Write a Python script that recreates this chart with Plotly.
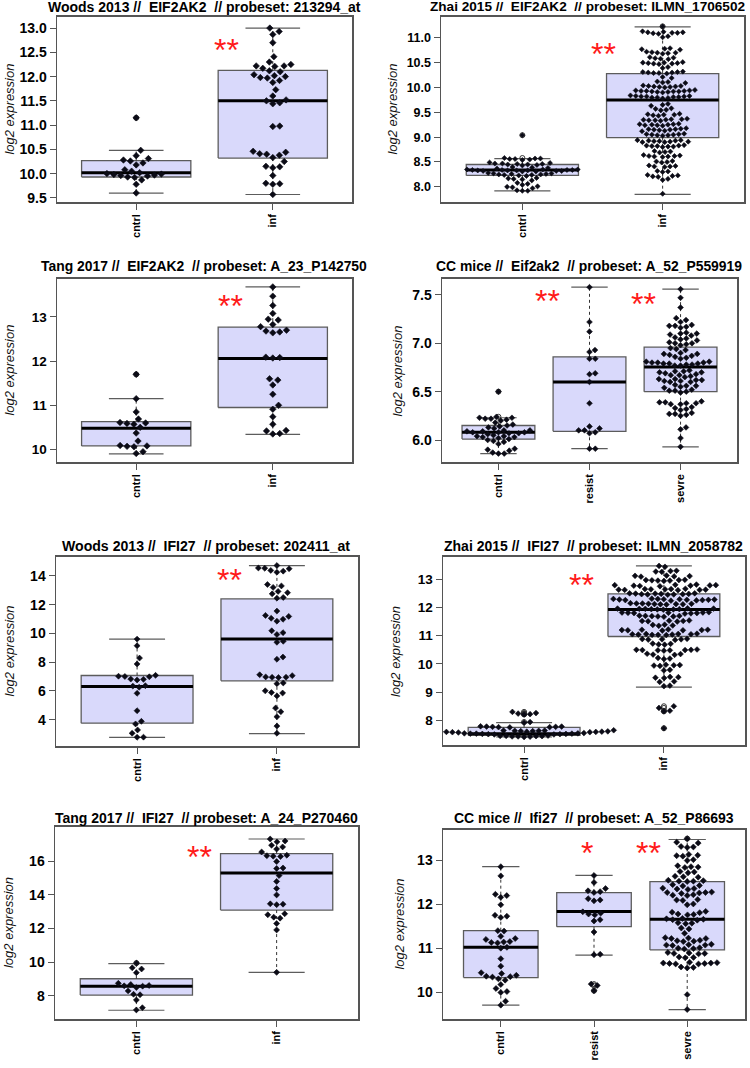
import math
import plotly.graph_objects as go

# ---------------------------------------------------------------- data
# Panel 1: Woods 2013 // EIF2AK2
woods_eif_groups = ["cntrl", "inf"]
woods_eif_cntrl = [11.15, 10.48, 10.37, 10.31, 10.28, 10.26, 10.22, 10.18, 10.08, 10.05, 10.02,
                   10.00, 9.99, 9.98, 9.97, 9.96, 9.95, 9.93, 9.92, 9.87, 9.78, 9.60]
woods_eif_inf = [13.00, 12.93, 12.87, 12.70, 12.41, 12.30, 12.25, 12.22, 12.22, 12.21, 12.17, 12.12,
                 12.10, 12.04, 12.02, 12.00, 11.98, 11.97, 11.92, 11.88, 11.73, 11.60, 11.52, 11.50,
                 11.46, 11.44, 10.98, 10.97, 10.46, 10.44, 10.41, 10.40, 10.38, 10.33, 10.25, 10.15,
                 10.14, 10.12, 9.96, 9.80, 9.79, 9.78, 9.57]
woods_eif_q1 = [9.93, 10.32]
woods_eif_med = [10.02, 11.50]
woods_eif_q3 = [10.27, 12.13]
woods_eif_lo = [9.60, 9.57]
woods_eif_hi = [10.48, 13.00]
woods_eif_ticks = [9.5, 10.0, 10.5, 11.0, 11.5, 12.0, 12.5, 13.0]
woods_eif_ticklabels = ["9.5", "10.0", "10.5", "11.0", "11.5", "12.0", "12.5", "13.0"]

# Panel 2: Zhai 2015 // EIF2AK2
zhai_eif_groups = ["cntrl", "inf"]
zhai_eif_cntrl = [9.04,
                  8.58, 8.57, 8.57, 8.56, 8.56, 8.55, 8.54,
                  8.49, 8.48, 8.47, 8.47, 8.46, 8.46, 8.45, 8.45, 8.44, 8.43,
                  8.40, 8.39, 8.38, 8.37,
                  8.35, 8.35, 8.35, 8.34, 8.34, 8.34, 8.34, 8.33, 8.33, 8.33, 8.33, 8.32, 8.32, 8.32,
                  8.31, 8.31,
                  8.28, 8.27, 8.27, 8.26, 8.26, 8.25, 8.25, 8.24, 8.24, 8.23, 8.22,
                  8.18, 8.17, 8.16, 8.15, 8.13,
                  8.08, 8.06, 8.04,
                  8.01, 8.00, 7.99, 7.97,
                  7.93, 7.92, 7.92]
zhai_eif_inf = [11.23,
                11.13, 11.12, 11.11, 11.11, 11.10, 11.10, 11.09, 11.08,
                11.03, 11.01,
                10.79, 10.78, 10.77, 10.76,
                10.72, 10.71, 10.70, 10.70, 10.69, 10.68,
                10.61, 10.60, 10.59, 10.58, 10.57,
                10.51, 10.50, 10.50, 10.49, 10.49, 10.48, 10.48, 10.47,
                10.41, 10.39,
                10.32, 10.31, 10.31, 10.30, 10.30, 10.29, 10.29, 10.28,
                10.21, 10.19,
                10.12, 10.11, 10.10, 10.09,
                10.04, 10.03, 10.03, 10.02, 10.02, 10.01, 10.01, 10.00,
                9.95, 9.94, 9.94, 9.93, 9.93, 9.93, 9.92, 9.92, 9.92, 9.91, 9.91, 9.90,
                9.84, 9.83, 9.83, 9.82, 9.82, 9.82, 9.81, 9.81, 9.80, 9.80, 9.79, 9.78,
                9.67, 9.65, 9.63,
                9.58, 9.57, 9.55, 9.54,
                9.47, 9.46, 9.45, 9.45, 9.44, 9.43,
                9.37, 9.36, 9.36, 9.35, 9.35, 9.34, 9.34, 9.33,
                9.27, 9.26, 9.26, 9.25, 9.25, 9.24, 9.24, 9.23,
                9.18, 9.17, 9.16, 9.16, 9.15, 9.15, 9.14, 9.13, 9.12,
                9.07, 9.06, 9.06, 9.05, 9.05, 9.04, 9.04, 9.03,
                8.94, 8.94, 8.93, 8.93, 8.92, 8.92, 8.91, 8.91, 8.90, 8.90,
                8.84, 8.83, 8.83, 8.82, 8.82, 8.81, 8.81, 8.80,
                8.72, 8.71, 8.70, 8.69,
                8.64, 8.63, 8.62, 8.62, 8.61, 8.61, 8.60,
                8.52, 8.51, 8.50, 8.49,
                8.43, 8.42, 8.41, 8.41, 8.40,
                8.32, 8.31, 8.30,
                8.24, 8.23, 8.22, 8.21, 8.20,
                8.16, 8.14,
                7.86]
zhai_eif_q1 = [8.23, 8.99]
zhai_eif_med = [8.34, 9.75]
zhai_eif_q3 = [8.45, 10.28]
zhai_eif_lo = [7.92, 7.85]
zhai_eif_hi = [8.57, 11.22]
zhai_eif_ticks = [8.0, 8.5, 9.0, 9.5, 10.0, 10.5, 11.0]
zhai_eif_ticklabels = ["8.0", "8.5", "9.0", "9.5", "10.0", "10.5", "11.0"]

# Panel 3: Tang 2017 // EIF2AK2
tang_eif_groups = ["cntrl", "inf"]
tang_eif_cntrl = [11.70, 11.15, 10.85, 10.69, 10.61, 10.60, 10.59, 10.57, 10.50, 10.37, 10.19,
                  10.09, 10.08, 10.07, 10.06, 9.95, 9.91]
tang_eif_inf = [13.68, 13.47, 13.26, 13.08, 12.95, 12.93, 12.83, 12.78, 12.70, 12.68, 12.66, 12.64,
                12.09, 12.08, 12.07, 11.60, 11.57, 11.46, 11.25, 11.00, 10.91, 10.74, 10.57, 10.43,
                10.42, 10.36, 10.35]
tang_eif_q1 = [10.08, 10.95]
tang_eif_med = [10.48, 12.06]
tang_eif_q3 = [10.63, 12.77]
tang_eif_lo = [9.90, 10.34]
tang_eif_hi = [11.15, 13.68]
tang_eif_ticks = [10, 11, 12, 13]
tang_eif_ticklabels = ["10", "11", "12", "13"]

# Panel 4: CC mice // Eif2ak2
cc_eif_groups = ["cntrl", "resist", "sevre"]
cc_eif_cntrl = [6.50, 6.24, 6.23, 6.23, 6.22, 6.22, 6.21, 6.20, 6.18, 6.16, 6.15, 6.14, 6.13, 6.12,
                6.10, 6.10, 6.09, 6.09, 6.08, 6.08, 6.08, 6.07, 6.07, 6.06, 6.05, 6.04, 6.04, 6.03,
                6.03, 6.02, 6.01, 6.00, 5.99, 5.98, 5.96, 5.91, 5.90, 5.89, 5.87, 5.86, 5.86]
cc_eif_resist = [7.58, 7.22, 7.12, 6.93, 6.91, 6.84, 6.84, 6.69, 6.68, 6.60, 6.38, 6.14, 6.12,
                 6.10, 6.10, 6.08, 6.07, 5.91, 5.91]
cc_eif_sevre = [7.56, 7.47, 7.37,
                7.26, 7.24, 7.22,
                7.19, 7.18, 7.18, 7.17, 7.16,
                7.11, 7.10, 7.10, 7.09, 7.08,
                7.06, 7.05, 7.04, 7.03,
                7.01, 7.00, 7.00, 6.99, 6.98,
                6.95, 6.94, 6.93,
                6.90, 6.89, 6.89, 6.88, 6.87,
                6.86, 6.85, 6.84,
                6.81, 6.81, 6.80, 6.80, 6.80, 6.79, 6.79, 6.79, 6.78, 6.78, 6.77, 6.77,
                6.72, 6.71, 6.71, 6.70, 6.70, 6.69,
                6.68, 6.67, 6.67, 6.66, 6.65,
                6.63, 6.63, 6.62, 6.62, 6.61, 6.61, 6.60, 6.60,
                6.57, 6.56, 6.56, 6.55, 6.54,
                6.52, 6.51, 6.51, 6.50, 6.49,
                6.40, 6.39, 6.39, 6.38, 6.38, 6.37, 6.37,
                6.34, 6.33, 6.32, 6.31,
                6.28, 6.27, 6.27, 6.26, 6.25,
                6.13, 6.11,
                6.02, 5.93]
cc_eif_q1 = [6.01, 6.09, 6.50]
cc_eif_med = [6.08, 6.60, 6.755]
cc_eif_q3 = [6.15, 6.86, 6.96]
cc_eif_lo = [5.86, 5.91, 5.93]
cc_eif_hi = [6.23, 7.58, 7.56]
cc_eif_ticks = [6.0, 6.5, 7.0, 7.5]
cc_eif_ticklabels = ["6.0", "6.5", "7.0", "7.5"]

# Panel 5: Woods 2013 // IFI27
woods_ifi_groups = ["cntrl", "inf"]
woods_ifi_cntrl = [9.60, 9.14, 8.28, 7.87, 7.08, 7.02, 7.00, 6.98, 6.82, 6.80, 6.76, 6.36, 6.33,
                   6.25, 5.83, 4.62, 3.88, 3.70, 3.28, 3.05, 2.78, 2.77]
woods_ifi_inf = [14.72, 14.55, 14.53, 14.50, 14.38, 14.33, 14.25, 13.40, 13.30, 13.20, 12.92, 12.83,
                 12.75, 12.50, 12.45, 11.55, 11.25, 11.18, 11.05, 10.98, 10.85, 10.18, 10.05, 9.92,
                 9.45, 9.38, 8.35, 8.20, 7.12, 7.06, 6.97, 6.95, 6.94, 6.93, 6.55, 6.50, 6.00, 5.88,
                 5.85, 5.65, 4.80, 4.55, 4.20, 3.55, 3.05]
woods_ifi_q1 = [3.75, 6.70]
woods_ifi_med = [6.30, 9.60]
woods_ifi_q3 = [7.07, 12.40]
woods_ifi_lo = [2.77, 3.03]
woods_ifi_hi = [9.60, 14.72]
woods_ifi_ticks = [4, 6, 8, 10, 12, 14]
woods_ifi_ticklabels = ["4", "6", "8", "10", "12", "14"]

# Panel 6: Zhai 2015 // IFI27
zhai_ifi_groups = ["cntrl", "inf"]
zhai_ifi_cntrl = [8.30, 8.26, 8.24, 8.22, 8.21,
                  7.94, 7.92,
                  7.79, 7.78, 7.78, 7.77, 7.77, 7.76, 7.76, 7.75,
                  7.66, 7.65, 7.65, 7.64, 7.64, 7.63, 7.63, 7.62, 7.62, 7.61, 7.61, 7.60, 7.60,
                  7.59, 7.59, 7.58, 7.58, 7.57,
                  7.55, 7.54, 7.54, 7.53, 7.53, 7.53, 7.52, 7.52, 7.51, 7.51, 7.50, 7.50,
                  7.46, 7.45, 7.45, 7.44, 7.44, 7.43, 7.43, 7.42, 7.41]
zhai_ifi_inf = [13.47, 13.44,
                13.30, 13.29, 13.27, 13.26,
                13.13, 13.12, 13.11, 13.10, 13.09,
                12.98, 12.97, 12.97, 12.96, 12.95, 12.95, 12.94,
                12.81, 12.80, 12.79, 12.79, 12.78, 12.77, 12.77, 12.76, 12.75,
                12.66, 12.65, 12.65, 12.64, 12.64, 12.63, 12.63, 12.62, 12.62, 12.61,
                12.50, 12.50, 12.49, 12.49, 12.48, 12.48, 12.47, 12.47, 12.46, 12.46, 12.45,
                12.31, 12.30, 12.30, 12.29, 12.29, 12.28, 12.28, 12.27, 12.27, 12.26, 12.26,
                12.25, 12.24,
                12.15, 12.14, 12.14, 12.13, 12.13, 12.12, 12.12, 12.11, 12.11, 12.10,
                11.97, 11.96, 11.96, 11.95, 11.95, 11.94, 11.94, 11.93, 11.93, 11.92,
                11.83, 11.82, 11.82, 11.81, 11.81, 11.80, 11.80, 11.79, 11.78,
                11.71, 11.70, 11.70, 11.69, 11.68, 11.68, 11.67,
                11.54, 11.53, 11.52, 11.52, 11.51, 11.50,
                11.39, 11.38, 11.36, 11.35,
                11.22, 11.21, 11.21, 11.20, 11.20, 11.19, 11.19, 11.18,
                11.07, 11.06, 11.06, 11.05, 11.05, 11.04, 11.04, 11.03, 11.03, 11.02,
                10.89, 10.88, 10.87, 10.87, 10.86, 10.85,
                10.72, 10.71, 10.69, 10.68,
                10.51, 10.50, 10.50, 10.49, 10.49, 10.48, 10.48, 10.47,
                10.36, 10.35, 10.33, 10.32,
                10.21, 10.19, 10.17,
                9.97, 9.96, 9.95, 9.94, 9.93,
                9.79, 9.77,
                9.54, 9.53, 9.51, 9.50,
                9.38, 9.36,
                9.23, 9.21,
                8.50, 8.44,
                8.34, 8.32,
                7.72]
zhai_ifi_q1 = [7.47, 10.97]
zhai_ifi_med = [7.53, 11.93]
zhai_ifi_q3 = [7.75, 12.48]
zhai_ifi_lo = [7.41, 9.18]
zhai_ifi_hi = [7.92, 13.47]
zhai_ifi_ticks = [8, 9, 10, 11, 12, 13]
zhai_ifi_ticklabels = ["8", "9", "10", "11", "12", "13"]

# Panel 7: Tang 2017 // IFI27
tang_ifi_groups = ["cntrl", "inf"]
tang_ifi_cntrl = [9.95, 9.67, 9.60, 9.38, 8.75, 8.68, 8.62, 8.60, 8.58, 8.50, 8.30, 8.10, 8.07,
                  7.76, 7.30, 7.17]
tang_ifi_inf = [17.32, 17.20, 17.15, 16.95, 16.85, 16.72, 16.55, 16.36, 16.33, 16.30, 16.28, 15.98,
                15.60, 15.57, 15.15, 14.80, 14.38, 14.00, 13.47, 13.45, 13.42, 12.88, 12.82, 12.68,
                12.62, 12.30, 11.92, 9.40]
tang_ifi_q1 = [8.05, 13.10]
tang_ifi_med = [8.58, 15.30]
tang_ifi_q3 = [9.02, 16.45]
tang_ifi_lo = [7.15, 9.40]
tang_ifi_hi = [9.92, 17.32]
tang_ifi_ticks = [8, 10, 12, 14, 16]
tang_ifi_ticklabels = ["8", "10", "12", "14", "16"]

# Panel 8: CC mice // Ifi27
cc_ifi_groups = ["cntrl", "resist", "sevre"]
cc_ifi_cntrl = [12.86, 12.65, 12.23, 12.20, 12.16, 11.99, 11.75, 11.73, 11.70, 11.40, 11.39, 11.27,
                11.22, 11.20, 11.15, 11.14, 11.13, 11.12, 11.02, 11.00, 10.76, 10.59, 10.44, 10.42,
                10.38, 10.36, 10.35, 10.34, 10.30, 10.27, 10.17, 10.08, 10.01, 9.99, 9.79, 9.70]
cc_ifi_resist = [12.66, 12.50, 12.36, 12.31, 12.29, 12.27, 12.13, 12.10, 12.08, 11.83, 11.80, 11.78,
                 11.76, 11.65, 11.62, 11.37, 10.86, 10.85, 10.18, 10.15, 10.03]
cc_ifi_sevre = [13.50, 13.42, 13.40, 13.32, 13.31, 13.30,
                13.14, 13.12, 13.11, 13.10,
                13.02, 13.00,
                12.88, 12.86, 12.85, 12.84,
                12.75, 12.74, 12.72,
                12.64, 12.63, 12.62,
                12.55, 12.54, 12.53, 12.53, 12.52,
                12.45, 12.43, 12.42,
                12.37, 12.36, 12.35, 12.34,
                12.28, 12.27, 12.27, 12.26, 12.25,
                12.22, 12.21, 12.20,
                12.11, 12.10, 12.09,
                12.01, 11.99,
                11.84, 11.82, 11.81,
                11.78, 11.77, 11.76,
                11.68, 11.67, 11.66, 11.65, 11.64,
                11.58, 11.57, 11.56,
                11.46, 11.44,
                11.34,
                11.24, 11.23, 11.22, 11.22,
                11.18, 11.17, 11.16, 11.15,
                11.09, 11.08, 11.07, 11.07, 11.06,
                11.01, 11.00, 10.99, 10.98,
                10.90, 10.89, 10.88, 10.88, 10.87,
                10.80, 10.79, 10.78,
                10.68, 10.67, 10.66, 10.66, 10.65, 10.65, 10.64, 10.64,
                10.57, 10.56, 10.55,
                9.94, 9.60]
cc_ifi_q1 = [10.33, 11.49, 10.96]
cc_ifi_med = [11.02, 11.84, 11.66]
cc_ifi_q3 = [11.40, 12.27, 12.52]
cc_ifi_lo = [9.70, 10.84, 9.60]
cc_ifi_hi = [12.86, 12.66, 13.48]
cc_ifi_ticks = [10, 11, 12, 13]
cc_ifi_ticklabels = ["10", "11", "12", "13"]

# ---------------------------------------------------------------- panel setup
W, H = 750, 1068
FONT = "Liberation Sans, Arial, sans-serif"
BOX_FILL = "#d9d9fb"
BOX_LINE = "#5c5c5c"
FRAME = "#555555"

# title_pos: (centre x px, centre y px, font size)
panels = [
    dict(title="Woods 2013 //\u00a0 EIF2AK2\u00a0 // probeset: 213294_at",
         groups=woods_eif_groups, values=[woods_eif_cntrl, woods_eif_inf],
         q1=woods_eif_q1, med=woods_eif_med, q3=woods_eif_q3, lo=woods_eif_lo, hi=woods_eif_hi,
         ticks=woods_eif_ticks, ticklabels=woods_eif_ticklabels,
         px=(57, 352, 17, 203), yr=(9.41, 13.23), title_pos=(204, 7, 14),
         ytick_size=14, ytitle_x=10, msize=5.0, d=7.0, stars=[("**", 1.66, 12.61)]),
    dict(title="Zhai 2015 //\u00a0 EIF2AK2\u00a0 // probeset: ILMN_1706502",
         groups=zhai_eif_groups, values=[zhai_eif_cntrl, zhai_eif_inf],
         q1=zhai_eif_q1, med=zhai_eif_med, q3=zhai_eif_q3, lo=zhai_eif_lo, hi=zhai_eif_hi,
         ticks=zhai_eif_ticks, ticklabels=zhai_eif_ticklabels,
         px=(441, 744, 17, 203), yr=(7.69, 11.42), title_pos=(587, 7, 13.6),
         ytick_size=12.5, ytitle_x=393, msize=3.9, d=5.4, stars=[("**", 1.58, 10.74)]),
    dict(title="Tang 2017 //\u00a0 EIF2AK2\u00a0 // probeset: A_23_P142750",
         groups=tang_eif_groups, values=[tang_eif_cntrl, tang_eif_inf],
         q1=tang_eif_q1, med=tang_eif_med, q3=tang_eif_q3, lo=tang_eif_lo, hi=tang_eif_hi,
         ticks=tang_eif_ticks, ticklabels=tang_eif_ticklabels,
         px=(57, 352, 280, 464), yr=(9.71, 13.86), title_pos=(203.5, 267, 13.9),
         ytick_size=13.5, ytitle_x=10, msize=5.0, d=7.0, stars=[("**", 1.69, 13.32)]),
    dict(title="CC mice //\u00a0 Eif2ak2\u00a0 // probeset: A_52_P559919",
         groups=cc_eif_groups, values=[cc_eif_cntrl, cc_eif_resist, cc_eif_sevre],
         q1=cc_eif_q1, med=cc_eif_med, q3=cc_eif_q3, lo=cc_eif_lo, hi=cc_eif_hi,
         ticks=cc_eif_ticks, ticklabels=cc_eif_ticklabels,
         px=(442, 737, 280, 464), yr=(5.77, 7.665), title_pos=(588.5, 267, 13.9),
         ytick_size=14, ytitle_x=398, msize=4.4, d=5.8,
         stars=[("**", 1.54, 7.47), ("**", 2.59, 7.44)]),
    dict(title="Woods 2013 //\u00a0 IFI27\u00a0 // probeset: 202411_at",
         groups=woods_ifi_groups, values=[woods_ifi_cntrl, woods_ifi_inf],
         q1=woods_ifi_q1, med=woods_ifi_med, q3=woods_ifi_q3, lo=woods_ifi_lo, hi=woods_ifi_hi,
         ticks=woods_ifi_ticks, ticklabels=woods_ifi_ticklabels,
         px=(56, 358, 559, 749), yr=(2.15, 15.32), title_pos=(206, 548, 14.1),
         ytick_size=14, ytitle_x=10, msize=4.6, d=6.4, stars=[("**", 1.66, 13.93)]),
    dict(title="Zhai 2015 //\u00a0 IFI27\u00a0 // probeset: ILMN_2058782",
         groups=zhai_ifi_groups, values=[zhai_ifi_cntrl, zhai_ifi_inf],
         q1=zhai_ifi_q1, med=zhai_ifi_med, q3=zhai_ifi_q3, lo=zhai_ifi_lo, hi=zhai_ifi_hi,
         ticks=zhai_ifi_ticks, ticklabels=zhai_ifi_ticklabels,
         px=(443, 745, 559, 748), yr=(7.12, 13.79), title_pos=(593.5, 548, 14),
         ytick_size=13.5, ytitle_x=395, msize=4.4, d=6.0, stars=[("**", 1.41, 12.90)]),
    dict(title="Tang 2017 //\u00a0 IFI27\u00a0 // probeset: A_24_P270460",
         groups=tang_ifi_groups, values=[tang_ifi_cntrl, tang_ifi_inf],
         q1=tang_ifi_q1, med=tang_ifi_med, q3=tang_ifi_q3, lo=tang_ifi_lo, hi=tang_ifi_hi,
         ticks=tang_ifi_ticks, ticklabels=tang_ifi_ticklabels,
         px=(55, 358, 830, 1023), yr=(6.62, 18.04), title_pos=(206.5, 821, 14),
         ytick_size=14, ytitle_x=8, msize=4.6, d=6.4, stars=[("**", 1.45, 16.43)]),
    dict(title="CC mice //\u00a0 Ifi27\u00a0 // probeset: A_52_P86693",
         groups=cc_ifi_groups, values=[cc_ifi_cntrl, cc_ifi_resist, cc_ifi_sevre],
         q1=cc_ifi_q1, med=cc_ifi_med, q3=cc_ifi_q3, lo=cc_ifi_lo, hi=cc_ifi_hi,
         ticks=cc_ifi_ticks, ticklabels=cc_ifi_ticklabels,
         px=(443, 745, 833, 1023), yr=(9.38, 13.70), title_pos=(593.5, 821, 14),
         ytick_size=14, ytitle_x=400, msize=4.6, d=6.2,
         stars=[("*", 1.92, 13.24), ("**", 2.58, 13.24)]),
]


def swarm(vals, ppx, ppy, d):
    """Beeswarm offsets (data units) for values, computed in pixel space."""
    order = sorted(range(len(vals)), key=lambda k: vals[k])
    placed = []
    out = [0.0] * len(vals)
    for k in order:
        y = vals[k] * ppy
        near = [(px, py) for (px, py) in placed if abs(py - y) < d]
        cands = [0.0]
        for px, py in near:
            dx = math.sqrt(max(d * d - (py - y) ** 2, 0.0))
            cands += [px + dx, px - dx]
        best = 0.0
        for c in sorted(cands, key=lambda c: (round(abs(c), 6), -c)):
            if all((c - px) ** 2 + (y - py) ** 2 >= d * d - 1e-6 for px, py in near):
                best = c
                break
        placed.append((best, y))
        out[k] = best / ppx
    return out


fig = go.Figure()
annotations = []
layout_axes = {}

for i, p in enumerate(panels, start=1):
    xa = "x" if i == 1 else f"x{i}"
    ya = "y" if i == 1 else f"y{i}"
    n = len(p["groups"])
    xr = (0.5 - 0.04 * n, n + 0.5 + 0.04 * n)
    x0, x1, y0, y1 = p["px"]
    ppx = (x1 - x0) / (xr[1] - xr[0])
    ppy = (y1 - y0) / (p["yr"][1] - p["yr"][0])

    for g in range(n):
        c = g + 1
        q1, md, q3, lo, hi = p["q1"][g], p["med"][g], p["q3"][g], p["lo"][g], p["hi"][g]
        fig.add_trace(go.Scatter(x=[c - 0.4, c + 0.4, c + 0.4, c - 0.4, c - 0.4],
                                 y=[q1, q1, q3, q3, q1], mode="lines", fill="toself",
                                 fillcolor=BOX_FILL, line=dict(color=BOX_LINE, width=1.3),
                                 xaxis=xa, yaxis=ya, showlegend=False, hoverinfo="skip"))
        for a, b in [(q3, hi), (q1, lo)]:
            fig.add_trace(go.Scatter(x=[c, c], y=[a, b], mode="lines",
                                     line=dict(color="#333333", width=1, dash="3px,3px"),
                                     xaxis=xa, yaxis=ya, showlegend=False, hoverinfo="skip"))
            fig.add_trace(go.Scatter(x=[c - 0.2, c + 0.2], y=[b, b], mode="lines",
                                     line=dict(color=BOX_LINE, width=1.2),
                                     xaxis=xa, yaxis=ya, showlegend=False, hoverinfo="skip"))
        fig.add_trace(go.Scatter(x=[c - 0.4, c + 0.4], y=[md, md], mode="lines",
                                 line=dict(color="black", width=3),
                                 xaxis=xa, yaxis=ya, showlegend=False, hoverinfo="skip"))
        outl = [v for v in p["values"][g] if v > hi + 1e-9 or v < lo - 1e-9]
        if outl:
            fig.add_trace(go.Scatter(x=[c] * len(outl), y=outl, mode="markers",
                                     marker=dict(symbol="circle-open", size=5,
                                                 color="#333333", line=dict(width=1)),
                                     xaxis=xa, yaxis=ya, showlegend=False, hoverinfo="skip"))

    for g in range(n):
        c = g + 1
        vals = p["values"][g]
        offs = swarm(vals, ppx, ppy, p["d"])
        fig.add_trace(go.Scatter(x=[c + o for o in offs], y=vals, mode="markers",
                                 marker=dict(symbol="diamond", size=p["msize"], color="#0b0b16",
                                             line=dict(width=0.6, color="#0b0b16")),
                                 xaxis=xa, yaxis=ya, showlegend=False,
                                 hovertemplate="%{y:.2f}<extra></extra>"))

    key_x = "xaxis" if i == 1 else f"xaxis{i}"
    key_y = "yaxis" if i == 1 else f"yaxis{i}"
    layout_axes[key_x] = dict(domain=[x0 / W, x1 / W], range=list(xr), anchor=ya,
                              tickvals=list(range(1, n + 1)), ticktext=p["groups"],
                              tickangle=-90, ticks="outside", ticklen=6, tickcolor=FRAME,
                              showline=True, mirror=True, linecolor=FRAME, linewidth=1.5,
                              showgrid=False, zeroline=False, fixedrange=True,
                              tickfont=dict(family=FONT, size=11, color="black", weight="bold"))
    layout_axes[key_y] = dict(domain=[1 - y1 / H, 1 - y0 / H], range=list(p["yr"]), anchor=xa,
                              tickvals=p["ticks"], ticktext=p["ticklabels"],
                              ticks="outside", ticklen=6, tickcolor=FRAME,
                              showline=True, mirror=True, linecolor=FRAME, linewidth=1.5,
                              showgrid=False, zeroline=False, fixedrange=True,
                              tickfont=dict(family=FONT, size=p["ytick_size"], color="black",
                                            weight="bold"))

    tx, ty, tsize = p["title_pos"]
    annotations.append(dict(text=p["title"], x=tx / W, y=1 - ty / H,
                            xref="paper", yref="paper", showarrow=False,
                            xanchor="center", yanchor="middle",
                            font=dict(family=FONT, size=tsize, color="black", weight="bold")))
    annotations.append(dict(text="log2 expression", x=p["ytitle_x"] / W,
                            y=1 - (y0 + y1) / 2 / H, xref="paper", yref="paper",
                            showarrow=False, textangle=-90, xanchor="center", yanchor="middle",
                            font=dict(family=FONT, size=13, color="#111111", style="italic")))
    for s, sx, sy in p["stars"]:
        annotations.append(dict(text=s, x=sx, y=sy, xref=xa, yref=ya, showarrow=False,
                                xanchor="center", yanchor="middle", yshift=-3,
                                font=dict(family=FONT, size=32, color="#ff1a1a")))

fig.update_layout(width=W, height=H, margin=dict(l=0, r=0, t=0, b=0),
                  paper_bgcolor="white", plot_bgcolor="white",
                  annotations=annotations, showlegend=False, **layout_axes)

fig.write_html("out.html",
               config={"displayModeBar": False, "staticPlot": True},
               post_script="document.body.style.margin='0px';"
                           "document.body.style.padding='0px';"
                           "document.documentElement.style.overflow='hidden';")
